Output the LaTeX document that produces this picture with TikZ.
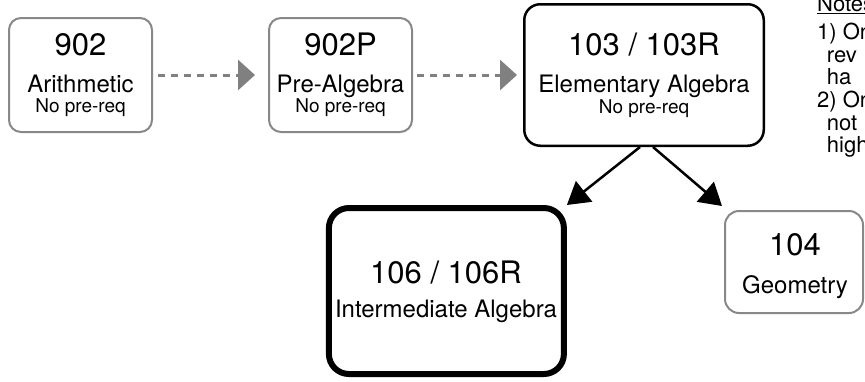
\documentclass[tikz,border=0pt]{standalone}
\usepackage{fontspec}
\setmainfont{TeX Gyre Heros}
\usetikzlibrary{arrows.meta}
\definecolor{boxgray}{RGB}{136,136,136}
\definecolor{arrgray}{RGB}{128,128,128}
\tikzset{
  graybox/.style={draw=boxgray, line width=2pt, rounded corners=12pt, rectangle, inner sep=0pt},
  blackbox/.style={draw=black, line width=2.5pt, rounded corners=16pt, rectangle, inner sep=0pt},
  heavybox/.style={draw=black, line width=6pt, rounded corners=20pt, rectangle, inner sep=0pt},
  txt/.style={anchor=base, inner sep=0pt, text=black},
  numtxt/.style={txt, font=\fontsize{31}{31}\selectfont},
  nametxt/.style={txt, font=\fontsize{24}{24}\selectfont},
  reqtxt/.style={txt, font=\fontsize{19}{19}\selectfont},
  notetxt/.style={anchor=base west, inner sep=0pt, text=black, font=\fontsize{22}{22}\selectfont},
  dasharrow/.style={draw=arrgray, line width=3pt, dash pattern=on 7pt off 6pt,
    -{Triangle[length=17pt,width=30pt]}, arrgray},
  solidarrow/.style={draw=black, line width=2.5pt, -{Triangle[length=22pt,width=26pt]}}
}
\begin{document}
\begin{tikzpicture}[x=1pt,y=-1pt]
\clip (0,0) rectangle (865,381);
\useasboundingbox (0,0) rectangle (865,381);

% boxes
\node[graybox, minimum width=143pt, minimum height=114pt] (b902) at (80.5,75) {};
\node[graybox, minimum width=143pt, minimum height=114pt] (b902P) at (340.5,75) {};
\node[blackbox, minimum width=239.5pt, minimum height=141.5pt] (b103) at (644,75) {};
\node[heavybox, minimum width=235pt, minimum height=166pt] (b106) at (446.4,291) {};
\node[graybox, rounded corners=14pt, minimum width=138pt, minimum height=102pt] (b104) at (794,262) {};

% texts
\node[numtxt] (t902a) at (80.5,55) {902};
\node[nametxt] (t902b) at (80.5,92) {Arithmetic};
\node[reqtxt] (t902c) at (80.5,112) {No pre-req};

\node[numtxt] (t902Pa) at (340.5,55) {902P};
\node[nametxt] (t902Pb) at (340.5,92) {Pre-Algebra};
\node[reqtxt] (t902Pc) at (340.5,112) {No pre-req};

\node[numtxt] (t103a) at (644,55) {103 / 103R};
\node[nametxt] (t103b) at (644,92) {Elementary Algebra};
\node[reqtxt] (t103c) at (644,113) {No pre-req};

\node[numtxt] (t106a) at (446,283) {106 / 106R};
\node[nametxt] (t106b) at (446,317) {Intermediate Algebra};

\node[numtxt] (t104a) at (795,255) {104};
\node[nametxt] (t104b) at (795,293) {Geometry};

% notes
\node[notetxt] (nhead) at (817,11) {Notes:};
\draw[line width=1.3pt] ([yshift=-2.5pt]nhead.base west) -- ([yshift=-2.5pt]nhead.base east);
\node[notetxt] (n1) at (817,39.3) {1) On};
\node[notetxt] (n2) at (826.7,62) {rev};
\node[notetxt] (n3) at (826.7,84.7) {ha};
\node[notetxt] (n4) at (817,107.4) {2) On};
\node[notetxt] (n5) at (826.7,130) {not};
\node[notetxt] (n6) at (826.7,152.7) {high};

% connectors
\draw[dasharrow, shorten <=5pt, shorten >=13pt] (b902.east) -- (b902P.west);
\draw[dasharrow, shorten <=4pt, shorten >=6pt] (b902P.east) -- (b103.west);
\draw[solidarrow] ([xshift=-4pt]b103.south) -- (b106.north east);
\draw[solidarrow] ([xshift=9pt]b103.south) -- ([xshift=-2pt,yshift=4pt]b104.north west);
\end{tikzpicture}
\end{document}
